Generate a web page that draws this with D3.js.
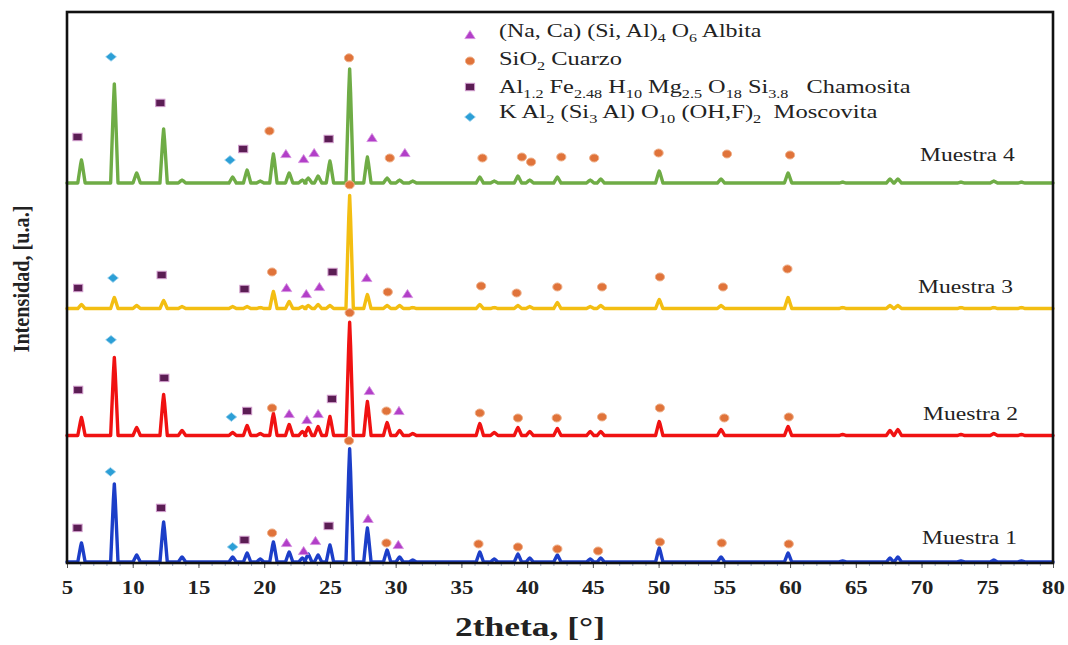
<!DOCTYPE html>
<html>
<head>
<meta charset="utf-8">
<script src="https://cdn.jsdelivr.net/npm/d3@7"></script>
<style>
  html, body { margin: 0; padding: 0; background: #ffffff; }
  svg { display: block; }
  text { font-family: "Liberation Serif", "Tinos", "Times New Roman", serif; }
</style>
</head>
<body>
<svg id="chart" width="1068" height="645"></svg>
<script>
// ---- Diffraction peaks (2θ, degrees) shared by the four samples ----
const peakPositions = [6.1, 8.6, 10.3, 12.35, 13.75, 17.6, 18.7, 19.7, 20.7, 21.9,
  22.9, 23.35, 24.1, 25.0, 26.5, 27.85, 29.35, 30.3, 31.3, 36.4,
  37.5, 39.3, 40.2, 42.3, 44.8, 45.6, 50.05, 54.75, 59.85, 64.0,
  67.6, 68.2, 73.0, 75.5, 77.6];

// Peak intensities above each sample's baseline [u.a.]
const muestra1 = [152, 624, 56, 320, 40, 40, 72, 24, 160, 80, 32, 64, 56, 136, 904, 272, 96, 40, 16, 80,
  24, 64, 32, 56, 24, 32, 112, 40, 72, 8, 32, 40, 8, 16, 8];
const muestra2 = [144, 624, 64, 328, 40, 24, 80, 16, 176, 88, 32, 64, 72, 152, 904, 272, 104, 40, 16, 96,
  24, 64, 32, 56, 32, 32, 112, 48, 72, 8, 40, 48, 8, 16, 8];
const muestra3 = [32, 88, 24, 64, 16, 16, 16, 8, 136, 56, 16, 24, 32, 24, 904, 112, 24, 24, 8, 32,
  8, 24, 16, 48, 16, 24, 72, 24, 88, 8, 24, 24, 8, 8, 8];
const muestra4 = [184, 792, 80, 432, 24, 48, 104, 16, 232, 80, 24, 40, 56, 176, 912, 208, 40, 24, 16, 48,
  16, 56, 24, 48, 24, 32, 96, 32, 80, 8, 32, 32, 8, 16, 8];

const sampleNames = ["Muestra 1", "Muestra 2", "Muestra 3", "Muestra 4"];
const sampleOffsets = [8, 1018, 2032, 3034];
const sampleColors = ["#1c3ec8", "#f01212", "#f3be12", "#6fac46"];

// Phase identification marks: [2θ, intensity above the sample baseline], one list per sample
const albitaMarks = [
  [[21.7, 152], [23.0, 88], [23.9, 168], [27.9, 344], [30.2, 136]],
  [[21.9, 172], [23.25, 124], [24.1, 172], [28.0, 356], [30.25, 196]],
  [[21.7, 164], [23.2, 116], [24.2, 172], [27.8, 244], [30.9, 116]],
  [[21.65, 232], [23.0, 192], [23.8, 240], [28.2, 360], [30.7, 240]]
];
const cuarzoMarks = [
  [[20.6, 232], [26.45, 968], [29.3, 152], [36.3, 144], [39.3, 120], [42.3, 104], [45.4, 88], [50.1, 160], [54.8, 152], [59.9, 144]],
  [[20.6, 220], [26.5, 980], [29.3, 196], [36.4, 180], [39.3, 140], [42.25, 140], [45.7, 148], [50.1, 220], [55.0, 140], [59.9, 148]],
  [[20.6, 292], [26.5, 988], [29.4, 132], [36.5, 180], [39.2, 124], [42.3, 172], [45.7, 172], [50.1, 252], [54.9, 172], [59.8, 316]],
  [[20.4, 416], [26.45, 1000], [29.55, 200], [36.6, 200], [39.6, 208], [40.3, 168], [42.6, 208], [45.1, 200], [50.0, 240], [55.2, 232], [60.0, 224]]
];
const chamositaMarks = [
  [[5.8, 272], [12.15, 432], [18.5, 176], [24.9, 288]],
  [[5.85, 364], [12.4, 460], [18.7, 196], [25.15, 292]],
  [[5.85, 164], [12.2, 268], [18.5, 156], [25.2, 292]],
  [[5.8, 368], [12.1, 640], [18.4, 272], [24.9, 352]]
];
const moscovitaMarks = [
  [[8.3, 720], [17.6, 120]],
  [[8.35, 764], [17.5, 148]],
  [[8.5, 244]],
  [[8.35, 1008], [17.4, 184]]
];

const xTicks = [5, 10, 15, 20, 25, 30, 35, 40, 45, 50, 55, 60, 65, 70, 75, 80];

// Legend text pieces: [text, subscript?]
const legendAlbita = [["(Na, Ca) (Si, Al)", 0], ["4", 1], [" O", 0], ["6", 1], [" Albita", 0]];
const legendCuarzo = [["SiO", 0], ["2", 1], [" Cuarzo", 0]];
const legendChamosita = [["Al", 0], ["1.2", 1], [" Fe", 0], ["2.48", 1], [" H", 0], ["10", 1], [" Mg", 0], ["2.5", 1],
  [" O", 0], ["18", 1], [" Si", 0], ["3.8", 1], ["   Chamosita", 0]];
const legendMoscovita = [["K Al", 0], ["2", 1], [" (Si", 0], ["3", 1], [" Al) O", 0], ["10", 1], [" (OH,F)", 0], ["2", 1], ["  Moscovita", 0]];

// ---- Layout ----
const svg = d3.select("#chart");
const plot = { left: 67, right: 1053, top: 12, bottom: 563 };
const x = d3.scaleLinear().domain([5, 80]).range([plot.left, plot.right]);
const y = d3.scaleLinear().domain([0, 4400]).range([plot.bottom, plot.top]);
const HW = 0.28;   // half base width of a peak, degrees
const HT = 0.07;   // half width near the apex, degrees

// Stretch a text element horizontally so that it spans the given width
function fitWidth(sel, tx, ty, width) {
  const w = sel.node().getBBox().width;
  sel.attr("transform", `translate(${tx},${ty}) scale(${width / w},1)`);
}

// ---- Diffractograms ----
const samples = [muestra1, muestra2, muestra3, muestra4];
const line = d3.line().x(d => x(d[0])).y(d => y(d[1]));

samples.forEach((heights, i) => {
  const base = sampleOffsets[i];
  const pts = [[5, base]];
  peakPositions.forEach((p, k) => {
    const h = heights[k];
    pts.push([p - HW, base], [p - HT, base + h * 0.8], [p, base + h],
             [p + HT, base + h * 0.8], [p + HW, base]);
  });
  pts.push([80, base]);
  svg.append("path")
    .attr("d", line(pts))
    .attr("fill", "none")
    .attr("stroke", sampleColors[i])
    .attr("stroke-width", 3.4)
    .attr("stroke-linejoin", "round")
    .attr("stroke-linecap", "round");
});

// ---- Marker shapes ----
function drawTriangle(g, cx, cy, s) {
  g.append("path")
    .attr("d", `M${cx},${cy - 4.6*s} L${cx + 5.2*s},${cy + 3.6*s} L${cx - 5.2*s},${cy + 3.6*s} Z`)
    .attr("fill", "#b23fc8").attr("stroke", "#d58ee0").attr("stroke-width", 0.8);
}
function drawCircle(g, cx, cy, s) {
  g.append("ellipse").attr("cx", cx).attr("cy", cy).attr("rx", 4.6*s).attr("ry", 4.0*s)
    .attr("fill", "#e0733a").attr("stroke", "#efb08a").attr("stroke-width", 1);
}
function drawSquare(g, cx, cy, s) {
  g.append("rect").attr("x", cx - 4.6*s).attr("y", cy - 3.7*s).attr("width", 9.2*s).attr("height", 7.4*s)
    .attr("fill", "#5b1d54").attr("stroke", "#cf9bcb").attr("stroke-width", 1);
}
function drawDiamond(g, cx, cy, s) {
  g.append("path")
    .attr("d", `M${cx},${cy - 4.4*s} L${cx + 5.4*s},${cy} L${cx},${cy + 4.4*s} L${cx - 5.4*s},${cy} Z`)
    .attr("fill", "#2c9fd6").attr("stroke", "#9fd3ee").attr("stroke-width", 0.8);
}

const marks = svg.append("g");
const phaseSets = [
  [chamositaMarks, drawSquare],
  [moscovitaMarks, drawDiamond],
  [albitaMarks, drawTriangle],
  [cuarzoMarks, drawCircle]
];
phaseSets.forEach(([sets, draw]) => {
  sets.forEach((list, i) => {
    list.forEach(([t, v]) => draw(marks, x(t), y(sampleOffsets[i] + v), 1));
  });
});

// ---- Sample labels ----
const labelPos = [[922, 544], [923, 420], [918, 293], [920, 161]];
sampleNames.forEach((name, i) => {
  const t = svg.append("text")
    .attr("font-size", 19.5).attr("fill", "#222")
    .text(name);
  fitWidth(t, labelPos[i][0], labelPos[i][1], 95);
});

// ---- Legend ----
const legend = svg.append("g");
const legendRows = [
  [legendAlbita, drawTriangle, 35, 37, 263],
  [legendCuarzo, drawCircle, 61, 65, 123],
  [legendChamosita, drawSquare, 87, 93, 412],
  [legendMoscovita, drawDiamond, 117, 118, 379]
];
legendRows.forEach(([parts, draw, my, ty, w]) => {
  draw(legend, 470, my, 1);
  const t = legend.append("text")
    .attr("font-size", 19.5).attr("fill", "#222")
    .style("white-space", "pre");
  let sub = false;
  parts.forEach(([s, isSub]) => {
    const ts = t.append("tspan").text(s);
    if (isSub && !sub) { ts.attr("dy", 5).attr("font-size", 13); sub = true; }
    else if (isSub && sub) { ts.attr("font-size", 13); }
    else if (!isSub && sub) { ts.attr("dy", -5); sub = false; }
  });
  fitWidth(t, 499, ty, w);
});

// ---- Axes ----
const minorAxis = d3.axisBottom(x).tickValues(d3.range(5, 81, 1)).tickSize(3).tickFormat("");
svg.append("g").attr("transform", `translate(0,${plot.bottom})`).call(minorAxis)
  .call(g => g.select(".domain").remove())
  .call(g => g.selectAll("line").attr("stroke", "#9aa6c8").attr("stroke-width", 1));

const xAxis = d3.axisBottom(x).tickValues(xTicks).tickSize(5).tickFormat(d3.format("d"));
const axisG = svg.append("g").attr("transform", `translate(0,${plot.bottom})`).call(xAxis);
axisG.select(".domain").remove();
axisG.selectAll("line").attr("stroke", "#555").attr("stroke-width", 1);
axisG.selectAll("text")
  .attr("font-weight", "bold").attr("font-size", 19).attr("fill", "#222")
  .attr("y", 31).attr("dy", 0)
  .attr("transform", "scale(1.2,1)");

// Plot frame
svg.append("rect")
  .attr("x", plot.left).attr("y", plot.top)
  .attr("width", plot.right - plot.left).attr("height", plot.bottom - plot.top)
  .attr("fill", "none").attr("stroke", "#111").attr("stroke-width", 2.6);

// Axis titles
const xTitle = svg.append("text")
  .attr("font-size", 27).attr("font-weight", "bold").attr("fill", "#222")
  .text("2theta, [°]");
fitWidth(xTitle, 455, 636, 150);

const yTitle = svg.append("text")
  .attr("font-size", 19).attr("font-weight", "bold").attr("fill", "#222")
  .attr("text-anchor", "middle")
  .text("Intensidad, [u.a.]");
{
  const w = yTitle.node().getBBox().width;
  yTitle.attr("transform", `translate(29,279) rotate(-90) scale(${147 / w},1.18)`);
}
</script>
</body>
</html>
